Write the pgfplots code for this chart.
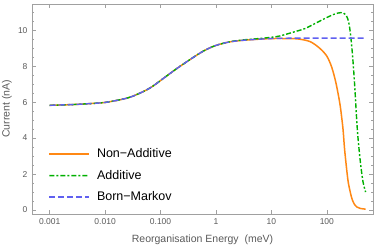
\documentclass[border=0pt]{standalone}
\usepackage{fontspec}
\setmainfont{Liberation Sans}
\usepackage{pgfplots}
\pgfplotsset{compat=1.18}
\definecolor{cOrange}{RGB}{255,136,20}
\definecolor{cGreen}{RGB}{0,176,0}
\definecolor{cBlue}{RGB}{96,96,240}
\definecolor{cFrame}{RGB}{160,160,160}
\definecolor{cText}{RGB}{90,90,90}
\tikzset{
  sOrange/.style={draw=cOrange, line width=1.5pt},
  sGreen/.style={draw=cGreen, line width=1.4pt, dash pattern=on 5pt off 2pt on 2pt off 2pt},
  sBlue/.style={draw=cBlue, line width=1.4pt, dash pattern=on 6pt off 3pt},
}
\begin{document}
\begin{tikzpicture}
\path[use as bounding box] (-32pt,-33pt) rectangle (342pt,214pt);
\begin{axis}[
  scale only axis, width=341pt, height=210pt,
  at={(0,0)}, anchor=south west,
  xmode=log, log basis x=10,
  xmin=0.00048, xmax=680,
  ymin=-0.22, ymax=11.45,
  axis line style={cFrame, line width=0.6pt},
  tick style={cFrame, line width=0.5pt},
  tick align=inside,
  major tick length=4pt, minor tick length=2pt,
  xtick={0.001,0.01,0.1,1,10,100},
  xticklabels={0.001,0.010,0.100,1,10,100},
  ytick={0,2,4,6,8,10},
  minor ytick={0.5,1,1.5,2.5,3,3.5,4.5,5,5.5,6.5,7,7.5,8.5,9,9.5,10.5,11},
  /pgf/number format/assume math mode=true,
  ticklabel style={font=\fontsize{8.5}{10}\selectfont, text=cText},
  xticklabel style={yshift=-1pt},
  yticklabel style={xshift=-1pt},
  xlabel={Reorganisation Energy\ \ (meV)},
  ylabel={Current (nA)},
  label style={font=\fontsize{10.5}{12}\selectfont, text=cText},
  xlabel style={at={(axis description cs:0.5,0)}, anchor=center, yshift=-26pt},
  ylabel style={at={(axis description cs:0,0.5)}, anchor=center, yshift=25pt},
  legend style={at={(0.042,0.035)}, anchor=south west, draw=none, fill=none,
    font=\fontsize{12.5}{14}\selectfont, row sep=7pt, inner sep=2pt},
  legend cell align=left,
  legend image code/.code={\draw[#1] (0pt,0pt) -- (40pt,0pt); \path (45pt,0pt);},
]
\addplot[sOrange, smooth, forget plot] coordinates {
(0.001,5.82)(0.002,5.85)(0.003,5.87)(0.005,5.91)(0.01,5.98)(0.02,6.15)(0.03,6.3)
(0.05,6.6)(0.07,6.85)(0.1,7.2)(0.15,7.6)(0.2,7.88)(0.3,8.25)(0.5,8.7)(0.7,8.95)
(1,9.15)(1.5,9.3)(2,9.37)(3,9.43)(5,9.48)(10,9.53)(20,9.53)(30,9.51)(50,9.36)
(75,8.98)(100,8.55)(122,7.95)(145,7.1)(171,5.95)(186,5.1)(197,4.4)(210,3.3)
(239,1.7)(260,1.1)(282,0.65)(310,0.35)(347,0.17)(400,0.09)(500,0.05)
};
\addplot[sGreen, smooth, forget plot] coordinates {
(0.001,5.82)(0.002,5.85)(0.003,5.87)(0.005,5.91)(0.01,5.98)(0.02,6.15)(0.03,6.3)
(0.05,6.6)(0.07,6.85)(0.1,7.2)(0.15,7.6)(0.2,7.88)(0.3,8.25)(0.5,8.7)(0.7,8.95)
(1,9.15)(1.5,9.3)(2,9.38)(3,9.45)(5,9.51)(7,9.55)(10,9.6)(14,9.67)(20,9.8)
(30,9.96)(40,10.08)(60,10.35)(80,10.55)(100,10.7)(130,10.86)(160,10.95)
(180,10.97)(200,10.94)(225,10.8)(245,10.5)(260,10.05)(275,9.4)(294,8.4)
(318,6.9)(354,4.5)(398,2.8)(447,1.6)(500,1.0)
};
\addplot[sBlue, smooth, forget plot] coordinates {
(0.001,5.82)(0.002,5.85)(0.003,5.87)(0.005,5.91)(0.01,5.98)(0.02,6.15)(0.03,6.3)
(0.05,6.6)(0.07,6.85)(0.1,7.2)(0.15,7.6)(0.2,7.88)(0.3,8.25)(0.5,8.7)(0.7,8.95)
(1,9.15)(1.5,9.3)(2,9.37)(3,9.43)(5,9.48)(10,9.53)(20,9.55)(50,9.55)(100,9.55)
(200,9.55)(500,9.55)
};
\addlegendimage{sOrange}
\addlegendentry{Non−Additive}
\addlegendimage{legend image code/.code={
  \fill[fill=cGreen, draw=none]
    (0pt,-0.75pt) rectangle (5pt,0.75pt)
    (7pt,-0.75pt) rectangle (9pt,0.75pt)
    (11pt,-0.75pt) rectangle (16pt,0.75pt)
    (18pt,-0.75pt) rectangle (20pt,0.75pt)
    (22pt,-0.75pt) rectangle (27pt,0.75pt)
    (29pt,-0.75pt) rectangle (31pt,0.75pt)
    (33pt,-0.75pt) rectangle (38pt,0.75pt);
  \path (45pt,0pt);}}
\addlegendentry{Additive}
\addlegendimage{sBlue}
\addlegendentry{Born−Markov}
\end{axis}
\end{tikzpicture}
\end{document}
